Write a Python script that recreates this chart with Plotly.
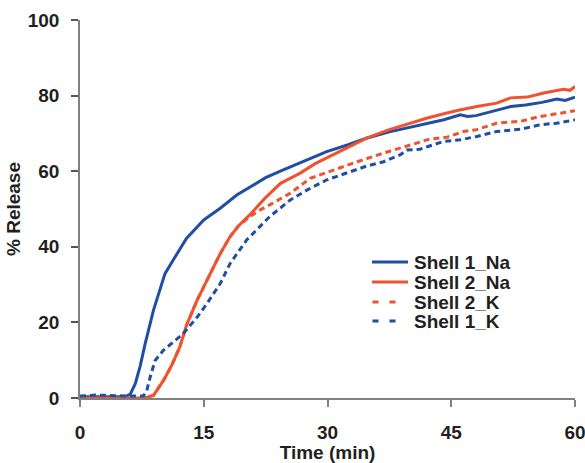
import plotly.graph_objects as go

# ---- data ----
t_s1na = [0, 2, 4, 5.5, 6.1, 6.7, 7.3, 7.9, 8.9, 10.3, 11.3, 12.9, 15.0, 17.0, 19.0, 20.6, 22.5, 24.5,
          27.0, 29.9, 32.5, 34.8, 37.5, 40.0, 42.0, 44.1, 46.1, 47.0, 48.0, 50.0, 52.2, 54.0, 56.0,
          57.8, 58.8, 60.0]
v_s1na = [0.3, 0.3, 0.3, 0.4, 1.0, 3.8, 8.5, 14.4, 23.2, 32.9, 36.5, 42.2, 47.1, 50.2, 53.7, 55.9, 58.3, 60.2,
          62.6, 65.2, 67.0, 68.8, 70.4, 71.6, 72.6, 73.6, 74.9, 74.5, 74.7, 75.9, 77.1, 77.5, 78.2,
          79.1, 78.7, 79.6]

t_s2na = [0, 2, 4, 6, 7.5, 8.1, 8.9, 10.1, 11.1, 12.1, 12.9, 14.2, 15.4, 17.0, 18.2, 19.2, 20.6, 22.4,
          24.3, 26.7, 28.5, 30.7, 32.8, 34.8, 37.5, 40.0, 42.0, 44.1, 46.0, 48.1, 50.5, 52.2, 54.2,
          56.2, 58.6, 59.4, 60.0]
v_s2na = [0.0, 0.0, 0.0, 0.0, 0.0, 0.2, 0.7, 4.6, 8.6, 13.5, 19.2, 25.9, 31.2, 38.2, 42.7, 45.5, 48.5, 52.8,
          56.8, 59.5, 62.0, 64.3, 66.7, 68.8, 71.0, 72.7, 74.0, 75.2, 76.2, 77.1, 78.0, 79.4, 79.6,
          80.7, 81.7, 81.4, 82.4]

t_s2k = [0, 2, 4, 6, 7.5, 8.1, 8.9, 10.1, 11.1, 12.1, 12.9, 14.2, 15.4, 17.0, 18.2, 19.2, 20.6, 21.8,
         23.0, 25.5, 27.9, 30.7, 33.6, 36.8, 38.8, 40.0, 42.4, 44.5, 46.5, 48.1, 50.5, 53.4, 55.4,
         57.8, 60.0]
v_s2k = [0.0, 0.0, 0.0, 0.0, 0.0, 0.2, 0.7, 4.6, 8.6, 13.5, 19.2, 25.9, 31.2, 38.2, 42.7, 45.5, 48.0, 49.7,
         51.1, 54.2, 58.1, 60.3, 62.5, 64.8, 66.1, 67.0, 68.5, 69.0, 70.5, 71.0, 72.7, 73.2, 74.3,
         75.2, 76.0]

t_s1k = [0, 1, 2, 3, 4, 5, 6, 7.0, 7.7, 8.1, 8.5, 9.1, 10.1, 11.3, 12.5, 14.2, 15.4, 17.0, 18.2, 20.2,
         21.6, 23.0, 25.5, 27.5, 29.9, 32.3, 34.8, 36.8, 38.8, 39.6, 41.2, 42.0, 44.1, 46.1, 48.1,
         50.5, 53.4, 55.8, 57.8, 60.0]
v_s1k = [0.5, 0.7, 0.8, 0.7, 0.6, 0.5, 0.5, 0.5, 0.6, 2.0, 5.5, 9.9, 12.6, 14.8, 17.0, 21.4, 25.0, 30.3,
         35.6, 41.8, 44.8, 48.0, 52.4, 55.0, 57.7, 59.5, 61.4, 62.5, 64.3, 65.6, 65.8, 66.4, 67.9,
         68.3, 69.2, 70.5, 71.1, 72.3, 72.7, 73.6]

series_names = ["Shell 1_Na", "Shell 2_Na", "Shell 2_K", "Shell 1_K"]
x_ticks = [0, 15, 30, 45, 60]
y_ticks = [0, 20, 40, 60, 80, 100]

BLUE = "#1F4EA3"
RED = "#F0522F"
TXT = "#231F20"
FONT = "Liberation Sans"
DASH = "6px,4px"

series = [
    (t_s1na, v_s1na, BLUE, "solid"),
    (t_s2na, v_s2na, RED, "solid"),
    (t_s2k, v_s2k, RED, DASH),
    (t_s1k, v_s1k, BLUE, DASH),
]

fig = go.Figure()
for (tx, vy, col, dash), name in zip(series, series_names):
    fig.add_trace(go.Scatter(x=tx, y=vy, mode="lines", name=name, showlegend=False,
                             line=dict(color=col, width=3, dash=dash)))

# Compact legend (rows ~20 px apart, as in the original)
L, R, T, B = 80, 10, 20, 65
W, H = 585 - L - R, 463 - T - B
def px(xp):
    return (xp - L) / W
def py(yp):
    return (463 - B - yp) / H

rows = [262, 282, 302, 321]
shapes = []
annotations = []
for (tx, vy, col, dash), name, yr in zip(series, series_names, rows):
    if dash == "solid":
        shapes.append(dict(type="line", xref="paper", yref="paper", x0=px(372), x1=px(408),
                           y0=py(yr), y1=py(yr), line=dict(color=col, width=3)))
    else:
        shapes.append(dict(type="line", xref="paper", yref="paper", x0=px(372.5), x1=px(395.5),
                           y0=py(yr), y1=py(yr), line=dict(color=col, width=3, dash="6px,11px")))
    annotations.append(dict(text=f"<b>{name}</b>", xref="paper", yref="paper", x=px(412), y=py(yr),
                            xanchor="left", yanchor="middle", showarrow=False,
                            font=dict(size=19, family=FONT, color=TXT)))

fig.update_layout(
    width=585, height=463,
    margin=dict(l=L, r=R, t=T, b=B),
    paper_bgcolor="white", plot_bgcolor="white",
    font=dict(family=FONT, color=TXT, size=19),
    showlegend=False,
    shapes=shapes,
    annotations=annotations,
)
fig.update_xaxes(range=[0, 60], tickvals=x_ticks, ticktext=[f"<b>{v}</b>" for v in x_ticks],
                 showgrid=False, zeroline=False, showline=True, linecolor="#808080", linewidth=1.5,
                 ticks="outside", ticklen=7, tickwidth=1.5, tickcolor="#808080",
                 ticklabelstandoff=9, ticklabeloverflow="allow", automargin=False,
                 title=dict(text="<b>Time (min)</b>", font=dict(size=19), standoff=4))
fig.update_yaxes(range=[0, 100], tickvals=y_ticks, ticktext=[f"<b>{v}</b>" for v in y_ticks],
                 showgrid=False, zeroline=False, showline=True, linecolor="#808080", linewidth=1.5,
                 ticks="outside", ticklen=7, tickwidth=1.5, tickcolor="#555555",
                 ticklabelstandoff=8, automargin=False,
                 title=dict(text="<b>% Release</b>", font=dict(size=19), standoff=2))

fig.write_html("out.html")
